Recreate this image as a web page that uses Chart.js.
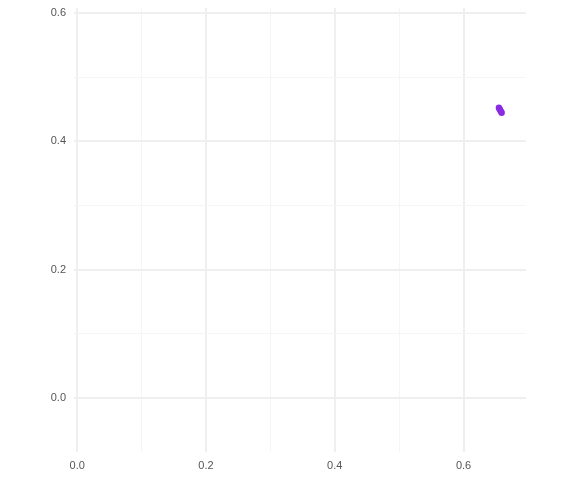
<!DOCTYPE html>
<html>
<head>
<meta charset="utf-8">
<script src="https://cdn.jsdelivr.net/npm/chart.js@4/dist/chart.umd.min.js"></script>
<style>
  html, body { margin: 0; padding: 0; background: #fff; }
  #wrap { width: 576px; height: 480px; }
</style>
</head>
<body>
<div id="wrap"><canvas id="chart"></canvas></div>
<script>
// points (tight cluster near 0.657, 0.448)
const xValues = [0.6549, 0.6560, 0.6571, 0.6582, 0.6592];
const yValues = [0.4525, 0.4505, 0.4485, 0.4465, 0.4448];
const xTicks = [0, 0.1, 0.2, 0.3, 0.4, 0.5, 0.6];
const yTicks = [0, 0.1, 0.2, 0.3, 0.4, 0.5, 0.6];

const pointColor = "#8a2be2";

function isMajor(v) {
  return Math.abs(Math.round(v * 10) % 2) === 0;
}

function gridColor(ctx) {
  if (!ctx.tick) return "#efefef";
  return isMajor(ctx.tick.value) ? "#efefef" : "#f5f5f5";
}

function gridWidth(ctx) {
  if (!ctx.tick) return 1;
  return isMajor(ctx.tick.value) ? 2 : 1;
}

const points = xValues.map((x, i) => ({ x: x, y: yValues[i] }));

const ctx = document.getElementById("chart").getContext("2d");
new Chart(ctx, {
  type: "scatter",
  data: {
    datasets: [
      {
        label: "points",
        data: points,
        backgroundColor: pointColor,
        borderColor: pointColor,
        pointRadius: 3.2,
        borderWidth: 0,
      },
    ],
  },
  options: {
    responsive: true,
    maintainAspectRatio: false,
    animation: false,
    layout: { padding: { top: 8, right: 50, left: 0, bottom: 0 } },
    plugins: {
      legend: { display: false },
      tooltip: { enabled: false },
    },
    scales: {
      x: {
        type: "linear",
        min: -0.005,
        max: 0.697,
        afterBuildTicks: (scale) => {
          scale.ticks = xTicks.map((v) => ({ value: v }));
        },
        afterFit: (scale) => {
          scale.height = 28;
          scale.paddingLeft = 0;
          scale.paddingRight = 0;
        },
        border: { display: false },
        grid: { color: gridColor, lineWidth: gridWidth, drawTicks: false },
        ticks: {
          padding: 7,
          color: "#555",
          font: { family: "Liberation Sans, Arial", size: 11 },
          callback: (v) => (isMajor(v) ? v.toFixed(1) : ""),
        },
      },
      y: {
        type: "linear",
        min: -0.084,
        max: 0.608,
        afterBuildTicks: (scale) => {
          scale.ticks = yTicks.map((v) => ({ value: v }));
        },
        afterFit: (scale) => {
          scale.width = 74;
          scale.paddingTop = 0;
          scale.paddingBottom = 0;
        },
        border: { display: false },
        grid: { color: gridColor, lineWidth: gridWidth, drawTicks: false },
        ticks: {
          padding: 8,
          color: "#555",
          font: { family: "Liberation Sans, Arial", size: 11 },
          callback: (v) => (isMajor(v) ? v.toFixed(1) : ""),
        },
      },
    },
  },
});
</script>
</body>
</html>
